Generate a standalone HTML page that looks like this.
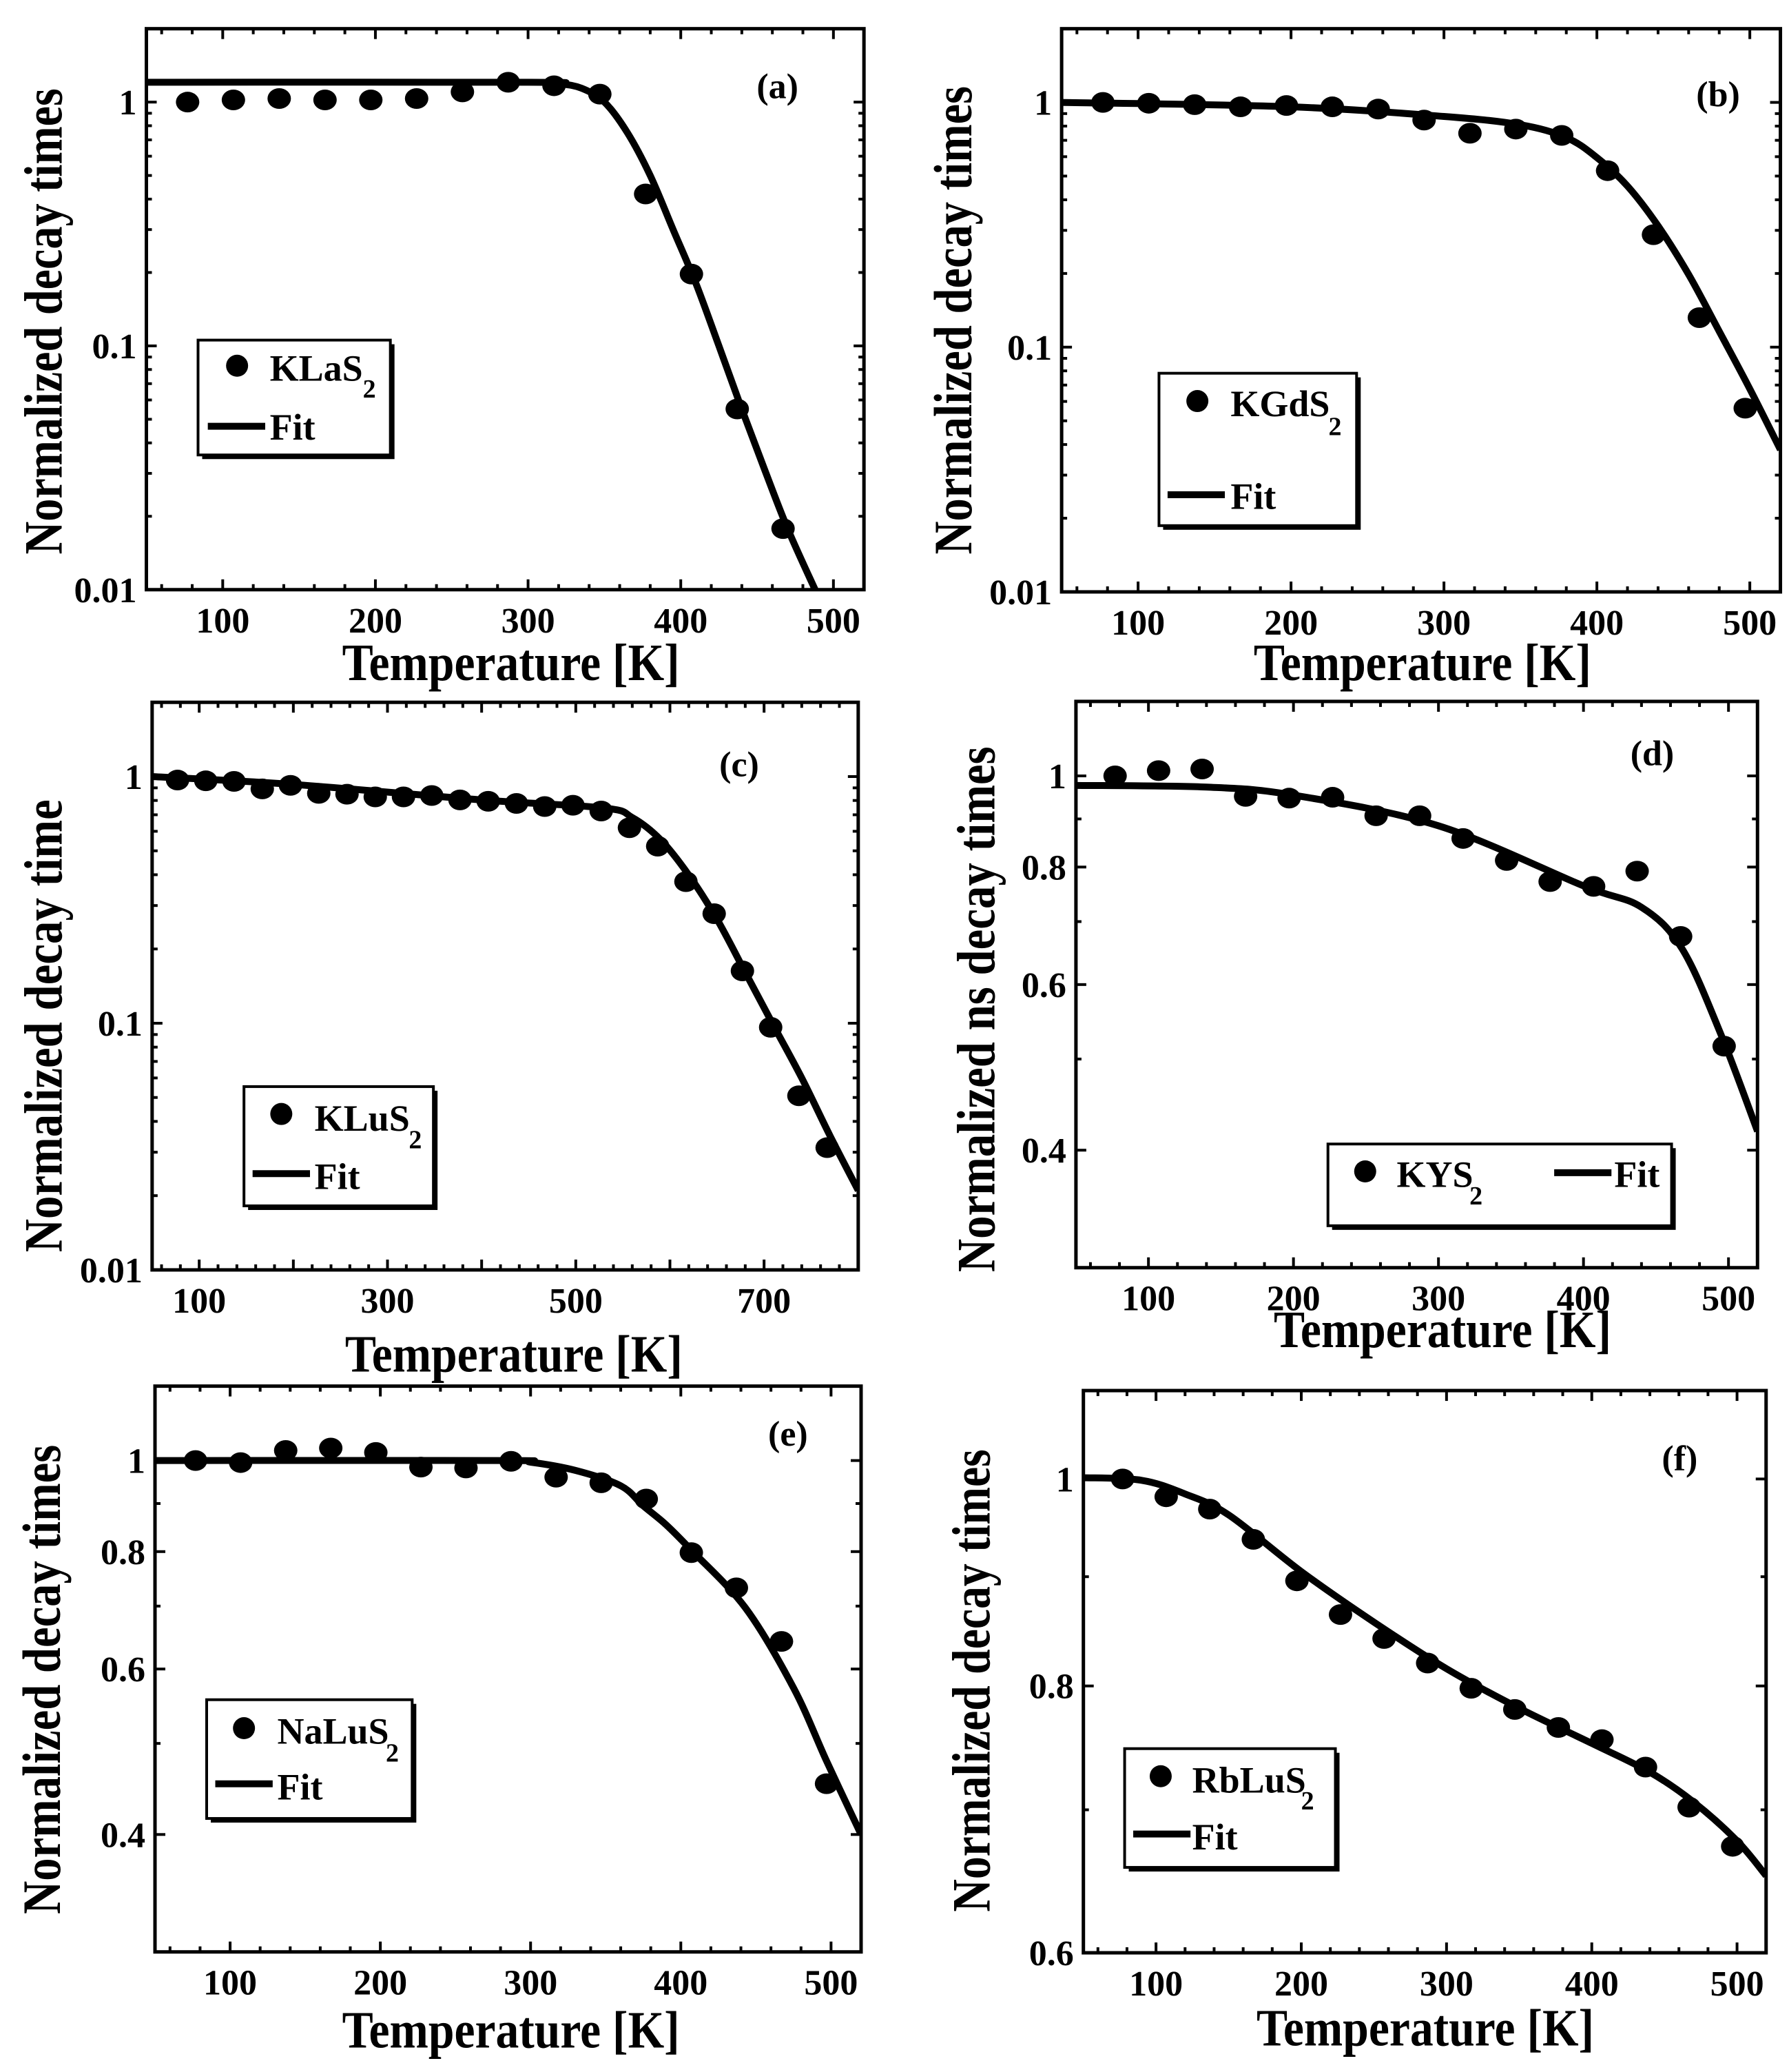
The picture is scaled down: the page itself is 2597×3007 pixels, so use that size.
<!DOCTYPE html>
<html><head><meta charset="utf-8"><style>
html,body{margin:0;padding:0;background:#fff;}
svg{display:block;}
text{font-family:"Liberation Serif",serif;font-weight:bold;fill:#000;}
</style></head><body>
<svg id="fig" xmlns="http://www.w3.org/2000/svg" width="2597" height="3007" viewBox="0 0 2597 3007"></svg>
<script>
// ---- data (a) KLaS2 ----
const tempA=[77,107,137,167,197,227,257,287,317,347,377,407,437,467];
const decayA=[1.0,1.021,1.034,1.021,1.021,1.034,1.101,1.206,1.167,1.078,0.420,0.197,0.0551,0.0178];
const fitTempA=[50,300,320,335,350,365,380,395,410,425,440,455,470,488];
const fitDecayA=[1.206,1.206,1.19,1.14,1.0,0.75,0.5,0.30,0.18,0.10,0.055,0.031,0.0178,0.01];
// ---- data (b) KGdS2 ----
const tempB=[77,107,137,167,197,227,257,287,317,347,377,407,437,467,497];
const decayB=[1.0,0.992,0.979,0.959,0.971,0.959,0.939,0.847,0.748,0.778,0.733,0.526,0.288,0.132,0.0563];
const fitTempB=[50,200,300,350,380,400,420,440,460,480,500,520];
const fitDecayB=[1.0,0.959,0.876,0.81,0.718,0.595,0.455,0.313,0.198,0.116,0.0675,0.0381];
// ---- data (c) KLuS2 ----
const tempC=[77,107,137,167,197,227,257,287,317,347,377,407,437,467,497,527,557,587,617,647,677,707,737,767];
const decayC=[0.968,0.961,0.956,0.891,0.921,0.855,0.848,0.827,0.827,0.838,0.804,0.794,0.778,0.756,0.765,0.725,0.620,0.522,0.375,0.278,0.163,0.0963,0.0508,0.0313];
const fitTempC=[50,200,400,530,560,590,620,650,680,710,740,770,800];
const fitDecayC=[1.0,0.929,0.804,0.746,0.682,0.555,0.399,0.264,0.161,0.098,0.060,0.035,0.021];
// ---- data (d) KYS2 ----
const tempD=[77,107,137,167,197,227,257,287,317,347,377,407,437,467,497];
const decayD=[1.0,1.013,1.017,0.951,0.947,0.949,0.907,0.907,0.858,0.813,0.772,0.763,0.792,0.675,0.516];
const fitTempD=[50,140,200,300,400,440,468,495,520];
const fitDecayD=[0.977,0.973,0.954,0.885,0.764,0.725,0.655,0.530,0.419];
// ---- data (e) NaLuS2 ----
const tempE=[77,107,137,167,197,227,257,287,317,347,377,407,437,467,497];
const decayE=[1.0,0.995,1.025,1.031,1.020,0.984,0.982,0.998,0.960,0.947,0.910,0.798,0.732,0.642,0.453];
const fitTempE=[50,280,300,330,360,375,390,407,443,475,497,520];
const fitDecayE=[1.0,1.0,0.996,0.976,0.940,0.895,0.855,0.803,0.697,0.573,0.479,0.40];
// ---- data (f) RbLuS2 ----
const tempF=[77,107,137,167,197,227,257,287,317,347,377,407,437,467,497];
const decayF=[1.0,0.981,0.968,0.937,0.896,0.864,0.842,0.820,0.798,0.780,0.765,0.755,0.733,0.702,0.673];
const fitTempF=[50,90,120,150,200,250,300,350,400,440,470,500,520];
const fitDecayF=[1.0014,0.9986,0.984,0.962,0.905,0.857,0.815,0.781,0.752,0.729,0.706,0.677,0.652];
// ---- tick labels ----
const xLabels5=[100,200,300,400,500];
const xLabelsC=[100,300,500,700];
const yLabelsLog=[1,0.1,0.01];
const yLabelsLin=[1,0.8,0.6,0.4];
const yLabelsF=[1,0.8,0.6];

const NS='http://www.w3.org/2000/svg';
const svg=document.getElementById('fig');
function el(tag,attrs,parent){const e=document.createElementNS(NS,tag);for(const k in attrs)e.setAttribute(k,attrs[k]);(parent||svg).appendChild(e);return e;}
function fmt(v){return String(v);}
const Z=1560;

function panel(c){
  const kx=c.cw/Z, ky=c.ch/Z;
  const zx=z=>c.cx+z*kx, zy=z=>c.cy+z*ky;
  const L=zx(c.f[0]),R=zx(c.f[1]),T=zy(c.f[2]),B=zy(c.f[3]);
  const X=v=>L+(v-c.xmin)/(c.xmax-c.xmin)*(R-L);
  const lg=Math.log10;
  const Y=v=>B-(lg(v)-lg(c.ymin))/(lg(c.ymax)-lg(c.ymin))*(B-T);
  const g=el('g',{});
  
  
  const cid='clip-'+c.id;
  const cp=el('clipPath',{id:cid},g);el('rect',{x:L,y:T,width:R-L,height:B-T},cp);
  const tg=el('g',{stroke:'#000','stroke-width':4},g);
  
  
  for(let v=Math.ceil(c.xmin/20)*20;v<=c.xmax;v+=20){
    const maj=v%100===0, len=maj?15:8, x=X(v);
    el('line',{x1:x,y1:B,x2:x,y2:B-len},tg);el('line',{x1:x,y1:T,x2:x,y2:T+len},tg);
  }
  const yt=[];
  if(c.logTicks){for(let d=-2;d<=0;d++)for(let m=1;m<=9;m++){const v=m*Math.pow(10,d);if(v>=c.ymin*0.999&&v<=c.ymax)yt.push([v,m===1]);}}
  else{c.yMaj.forEach(v=>yt.push([v,true]));c.yMin.forEach(v=>yt.push([v,false]));}
  yt.forEach(([v,maj])=>{const y=Y(v),len=maj?15:8;el('line',{x1:L,y1:y,x2:L+len,y2:y},tg);el('line',{x1:R,y1:y,x2:R-len,y2:y},tg);});
  c.xl.forEach(v=>{const t=el('text',{x:X(v),y:B+62,'font-size':52,'text-anchor':'middle'},g);t.textContent=fmt(v);
    });
  c.yl.forEach(v=>{const t=el('text',{x:L-14,y:Y(v)+18,'font-size':52,'text-anchor':'end'},g);t.textContent=fmt(v);
    });
  const pts=c.ft.map((t,i)=>[X(t),Y(c.fv[i])]);
  let d='M'+pts[0][0]+','+pts[0][1];
  for(let i=0;i<pts.length-1;i++){const p0=pts[i-1]||pts[i],p1=pts[i],p2=pts[i+1],p3=pts[i+2]||p2;
    d+=' C'+(p1[0]+(p2[0]-p0[0])/6)+','+(p1[1]+(p2[1]-p0[1])/6)+' '+(p2[0]-(p3[0]-p1[0])/6)+','+(p2[1]-(p3[1]-p1[1])/6)+' '+p2[0]+','+p2[1];}
  const fp=el('path',{d:d,fill:'none',stroke:'#000','stroke-width':10,'clip-path':'url(#'+cid+')'},g);
  
  c.dt.forEach((t,i)=>{const e=el('ellipse',{cx:X(t),cy:Y(c.dv[i]),rx:17,ry:15,fill:'#000'},g);
    });
  const fr=el('rect',{x:L,y:T,width:R-L,height:B-T,fill:'none',stroke:'#000','stroke-width':5},g);
  
  const pl=el('text',{x:zx(c.pl[0]),y:zy(c.pl[1]),'font-size':52},g);pl.textContent='('+c.id+')';
  
  const xt=el('text',{x:zx(c.xt[0]),y:zy(c.xt[1]),'font-size':76,'text-anchor':'middle',textLength:490,lengthAdjust:'spacingAndGlyphs'},g);
  xt.textContent='Temperature [K]';
  const ycx=zx(c.yt[0]),ycy=zy((c.yt[1]+c.yt[2])/2),ylen=(c.yt[2]-c.yt[1])*ky;
  const ytt=el('text',{x:0,y:0,'font-size':78,'text-anchor':'middle',textLength:ylen,lengthAdjust:'spacingAndGlyphs',transform:'translate('+(ycx+27)+','+ycy+') rotate(-90)'},g);
  ytt.textContent=c.ytitle;
  const lgG=el('g',{},g);
  const bx=zx(c.lb[0]),by=zy(c.lb[1]),bw=zx(c.lb[2])-bx,bh=zy(c.lb[3])-by;
  el('rect',{x:bx+6,y:by+6,width:bw,height:bh,fill:'#000'},lgG);
  el('rect',{x:bx,y:by,width:bw,height:bh,fill:'#fff',stroke:'#000','stroke-width':4},lgG);
  const m=el('circle',{cx:zx(c.lm[0]),cy:zy(c.lm[1]),r:16,fill:'#000'},lgG);
  
  const nt=el('text',{x:zx(c.ln[0]),y:zy(c.ln[1]),'font-size':54},lgG);nt.textContent=c.name;
  
  const st=el('text',{x:zx(c.ls[0]),y:zy(c.ls[1]),'font-size':38},lgG);st.textContent='2';
  
  const ll=el('line',{x1:zx(c.ll[0]),y1:zy(c.ll[2]),x2:zx(c.ll[1]),y2:zy(c.ll[2]),stroke:'#000','stroke-width':10},lgG);
  
  const ftx=el('text',{x:zx(c.lf[0]),y:zy(c.lf[1]),'font-size':54},lgG);ftx.textContent='Fit';
  
}

panel({id:'a',cx:0,cy:0,cw:1300,ch:1000,f:[255,1505,65,1335],xmin:50,xmax:520,ymin:0.01,ymax:2,logTicks:true,
  xl:xLabels5,yl:yLabelsLog,dt:tempA,dv:decayA,ft:fitTempA,fv:fitDecayA,pl:[1318,222],xt:[890,1540],yt:[75,200,1255],
  ytitle:'Normalized decay times',name:'KLaS',lb:[345,770,680,1030],lm:[413,828],ln:[470,862],ls:[632,900],ll:[362,462,965],lf:[470,995]});
panel({id:'b',cx:1300,cy:0,cw:1297,ch:1000,f:[290,1545,65,1340],xmin:50,xmax:520,ymin:0.01,ymax:2,logTicks:true,
  xl:xLabels5,yl:yLabelsLog,dt:tempB,dv:decayB,ft:fitTempB,fv:fitDecayB,pl:[1398,240],xt:[920,1540],yt:[100,195,1255],
  ytitle:'Normalized decay times',name:'KGdS',lb:[460,845,805,1190],lm:[527,908],ln:[585,942],ls:[756,985],ll:[475,575,1120],lf:[585,1152]});
panel({id:'c',cx:0,cy:1000,cw:1300,ch:1000,f:[265,1495,30,1315],xmin:50,xmax:800,ymin:0.01,ymax:2,logTicks:true,
  xl:xLabelsC,yl:yLabelsLog,dt:tempC,dv:decayC,ft:fitTempC,fv:fitDecayC,pl:[1253,197],xt:[895,1545],yt:[75,250,1275],
  ytitle:'Normalized decay time',name:'KLuS',lb:[425,900,755,1170],lm:[490,962],ln:[548,1000],ls:[712,1040],ll:[440,540,1097],lf:[548,1132]});
panel({id:'d',cx:1300,cy:1000,cw:1297,ch:1000,f:[315,1505,28,1310],xmin:50,xmax:520,ymin:0.3,ymax:1.2,logTicks:false,
  yMaj:[1,0.8,0.6,0.4],yMin:[0.9,0.7,0.5],
  xl:xLabels5,yl:yLabelsLin,dt:tempD,dv:decayD,ft:fitTempD,fv:fitDecayD,pl:[1283,172],xt:[955,1490],yt:[140,130,1320],
  ytitle:'Normalized ns decay times',name:'KYS',lb:[755,1030,1355,1215],lm:[820,1092],ln:[875,1127],ls:[1002,1167],ll:[1150,1250,1095],lf:[1255,1127]});
panel({id:'e',cx:0,cy:2000,cw:1300,ch:1007,f:[270,1500,18,1290],xmin:50,xmax:520,ymin:0.3,ymax:1.2,logTicks:false,
  yMaj:[1,0.8,0.6,0.4],yMin:[0.9,0.7,0.5],
  xl:xLabels5,yl:yLabelsLin,dt:tempE,dv:decayE,ft:fitTempE,fv:fitDecayE,pl:[1338,152],xt:[890,1505],yt:[72,150,1205],
  ytitle:'Normalized decay times',name:'NaLuS',lb:[360,723,718,990],lm:[425,787],ln:[483,822],ls:[672,862],ll:[375,475,912],lf:[483,947]});
panel({id:'f',cx:1300,cy:2000,cw:1297,ch:1007,f:[328,1520,28,1292],xmin:50,xmax:520,ymin:0.6,ymax:1.1,logTicks:false,
  yMaj:[1,0.8,0.6],yMin:[0.9,0.7],
  xl:xLabels5,yl:yLabelsF,dt:tempF,dv:decayF,ft:fitTempF,fv:fitDecayF,pl:[1338,207],xt:[925,1500],yt:[132,160,1200],
  ytitle:'Normalized decay times',name:'RbLuS',lb:[400,833,768,1100],lm:[463,895],ln:[518,932],ls:[708,970],ll:[415,515,1025],lf:[518,1060]});
</script>
</body></html>
